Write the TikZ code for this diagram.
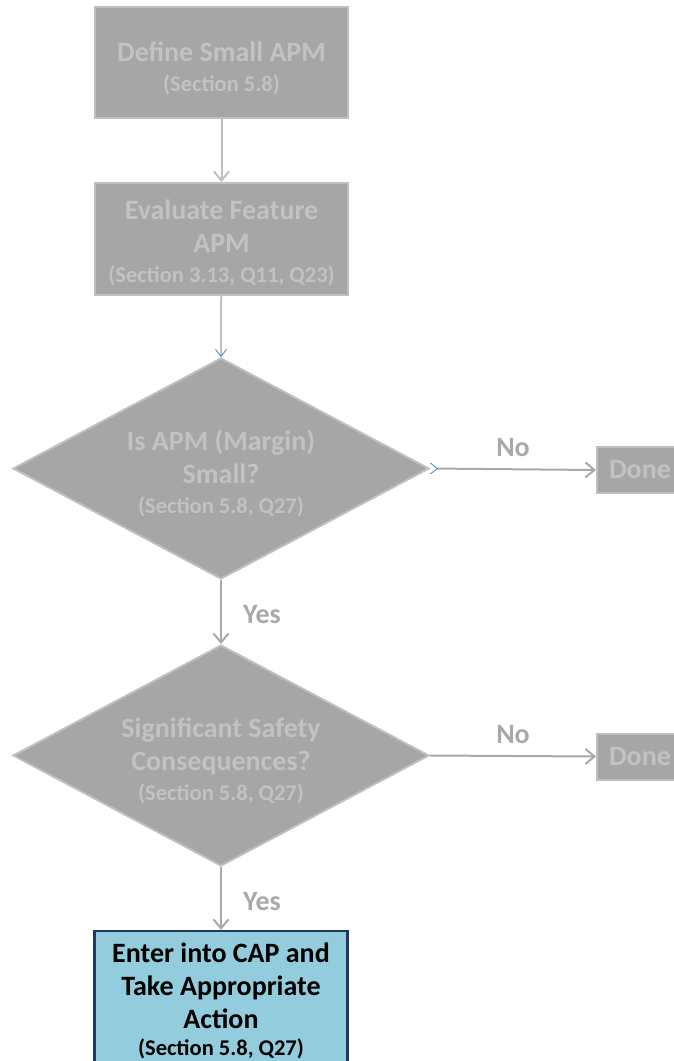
\documentclass[tikz,border=0pt]{standalone}
\usepackage{fontspec}
\setmainfont{Carlito}
\usetikzlibrary{arrows.meta}
\usetikzlibrary{positioning, shapes.geometric}
\definecolor{apmfill}{HTML}{A6A6A6}
\definecolor{apmedge}{HTML}{BFBFBF}
\definecolor{apmtext}{HTML}{C2C2C2}
\definecolor{apmline}{HTML}{A9A9A9}
\definecolor{capfill}{HTML}{93CDDD}
\definecolor{capedge}{HTML}{1F3864}
\definecolor{tipblue}{HTML}{4A7EC0}
\newcommand{\secref}{\\[-3pt]\fontsize{22.5}{26}\selectfont}
\newcommand{\topgap}[1][30pt]{\rule{0pt}{#1}}
\tikzset{
    greyB/.style={draw=apmedge, fill=apmfill, line width=2pt, text=apmtext,
        align=center, inner sep=0pt, font=\fontsize{28}{33}\selectfont\bfseries},
    greyD/.style={greyB, diamond, aspect=1.88, minimum width=416, minimum height=221},
    capB/.style={greyB, draw=capedge, fill=capfill, line width=2.2pt, text=black},
    flow/.style={draw=apmline, line width=2pt, -{Straight Barb[length=9pt, width=15pt]}},
    flowB/.style={draw=apmedge, line width=2pt, -{Straight Barb[length=7pt, width=11pt, line width=0.8pt, color=tipblue]}},
    lbl/.style={text=apmline, font=\fontsize{28}{33}\selectfont\bfseries}
}
\begin{document}
\begin{tikzpicture}[x=1pt, y=-1pt]
    \useasboundingbox (0,0) rectangle (673,1061);
    \def \bw {253}
    % boxes and decisions
    \node[greyB, minimum width=\bw, minimum height=111] (b1) at (221.5,62.5)
        {\topgap[31pt]Define Small APM\secref (Section 5.8)};
    \node[greyB, minimum width=\bw, minimum height=112] (b2) at (221.5,239)
        {\topgap[28pt]Evaluate Feature\\ APM\secref (Section 3.13, Q11, Q23)};
    \node[greyD] (q1) at (221,468.5)
        {\topgap Is APM (Margin)\\ Small?\secref (Section 5.8, Q27)};
    \node[greyD] (q2) at (221,755.5)
        {\topgap Significant Safety\\ Consequences?\secref (Section 5.8, Q27)};
    \node[greyB, anchor=west, minimum width=86, minimum height=46] (n1) at (596,470) {Done};
    \node[greyB, anchor=west, minimum width=86, minimum height=46] (n2) at (596,756.5) {Done};
    \node[capB, minimum width=\bw, minimum height=138] (c1) at (221,1000)
        {\topgap[22pt]Enter into CAP and\\ Take Appropriate\\ Action\\[-6pt]\fontsize{22.5}{26}\selectfont (Section 5.8, Q27)};
    % connectors
    \draw[flow, draw=apmedge] (b1) -- (b2);
    \draw[flowB] (b2) -- (q1.north);
    \draw[flow] (q1.south) -- (q2.north);
    \draw[flow, {Straight Barb[reversed, length=7pt, width=11pt, line width=0.8pt, color=tipblue]}-{Straight Barb[length=9pt, width=15pt]}]
        (q1.east) -- (n1.west);
    \draw[flow] (q2.east) -- (n2.west);
    \draw[flow] (q2.south) -- (c1.north);
    % labels
    \node[lbl] (y1) at (262,615) {Yes};
    \node[lbl] (y2) at (262,902) {Yes};
    \node[lbl] (o1) at (513,448) {No};
    \node[lbl] (o2) at (513,735) {No};
\end{tikzpicture}
\end{document}
